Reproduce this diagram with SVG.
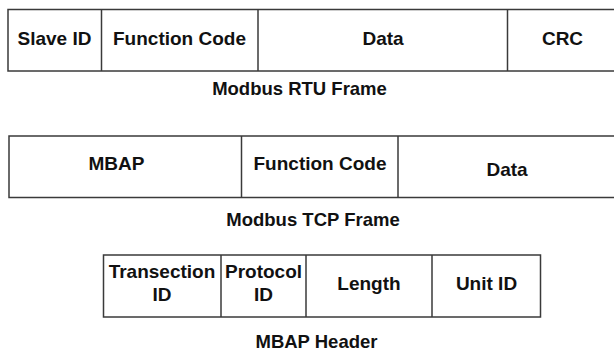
<svg xmlns="http://www.w3.org/2000/svg" width="614" height="352" viewBox="0 0 614 352">
<style>
.box{fill:#fff;stroke:#3a3a3a;stroke-width:1.5}
.div{stroke:#3a3a3a;stroke-width:1.5}
text{font-family:"Liberation Sans",Arial,sans-serif;font-weight:bold;text-anchor:middle;fill:#111}
.cell{font-size:19px}
.cap{font-size:18.5px}
</style>
<rect width="614" height="352" fill="#fff"/>
<g id="rtu-frame">
<rect class="box" x="8" y="9.5" width="612" height="61.5"/>
<line class="div" x1="101.5" y1="9.5" x2="101.5" y2="71"/>
<line class="div" x1="258" y1="9.5" x2="258" y2="71"/>
<line class="div" x1="507.5" y1="9.5" x2="507.5" y2="71"/>
<text class="cell" x="54.5" y="44.5">Slave ID</text>
<text class="cell" x="179.5" y="44.5">Function Code</text>
<text class="cell" x="383" y="44.5">Data</text>
<text class="cell" x="562.5" y="44.5">CRC</text>
<text class="cap" x="299.5" y="95">Modbus RTU Frame</text>
</g>
<g id="tcp-frame">
<rect class="box" x="9" y="136" width="612" height="61.5"/>
<line class="div" x1="241.5" y1="136" x2="241.5" y2="197.5"/>
<line class="div" x1="398" y1="136" x2="398" y2="197.5"/>
<text class="cell" x="116.5" y="169.5">MBAP</text>
<text class="cell" x="320" y="170">Function Code</text>
<text class="cell" x="507" y="175.5">Data</text>
<text class="cap" x="313" y="225.5">Modbus TCP Frame</text>
</g>
<g id="mbap-header">
<rect class="box" x="103.5" y="255" width="437" height="62"/>
<line class="div" x1="221" y1="255" x2="221" y2="317"/>
<line class="div" x1="306" y1="255" x2="306" y2="317"/>
<line class="div" x1="432" y1="255" x2="432" y2="317"/>
<text class="cell" x="162" y="277.5">Transection</text>
<text class="cell" x="162" y="300.5">ID</text>
<text class="cell" x="263.5" y="277.5">Protocol</text>
<text class="cell" x="263.5" y="300.5">ID</text>
<text class="cell" x="369" y="290">Length</text>
<text class="cell" x="486.5" y="290">Unit ID</text>
<text class="cap" x="316.5" y="348">MBAP Header</text>
</g>
</svg>
